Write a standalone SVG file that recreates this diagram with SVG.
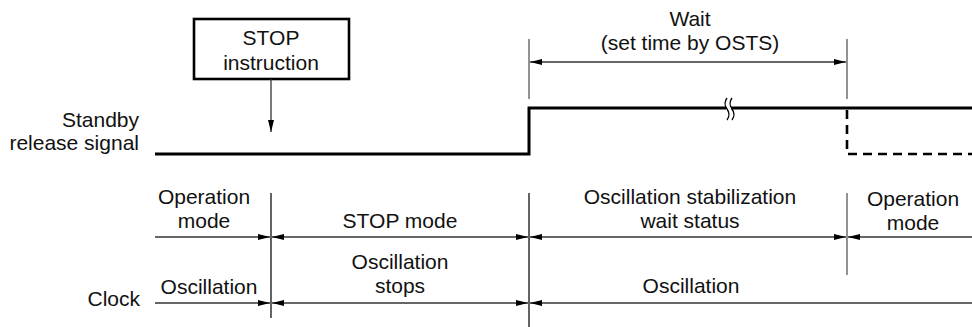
<svg xmlns="http://www.w3.org/2000/svg" width="972" height="327" viewBox="0 0 972 327">
<style>
text{font-family:"Liberation Sans",Arial,sans-serif;font-size:21px;fill:#111;text-anchor:middle}
.end{text-anchor:end}
.thin{stroke:#333;stroke-width:1.3;fill:none}
.vert{stroke:#111;stroke-width:1.3;fill:none}
.grey{stroke:#777;stroke-width:1.6;fill:none}
.sig{stroke:#000;stroke-width:3;fill:none}
.dash{stroke:#000;stroke-width:2.6;fill:none;stroke-dasharray:9 6}
</style>
<defs>
<marker id="ah" viewBox="0 0 12 6" refX="12" refY="3" markerWidth="12" markerHeight="6" markerUnits="userSpaceOnUse" orient="auto-start-reverse">
<path d="M0,0 L12,3 L0,6 Z" fill="#000"/>
</marker>
</defs>
<g id="stop-instruction">
<rect x="194" y="19" width="155" height="60" fill="#fff" stroke="#000" stroke-width="2.6"/>
<text x="271" y="45">STOP</text>
<text x="271" y="70">instruction</text>
</g>
<g id="labels">
<text class="end" x="139" y="127">Standby</text>
<text class="end" x="139" y="150">release signal</text>
<text class="end" x="140" y="306">Clock</text>
<text x="690" y="26">Wait</text>
<text x="690" y="50">(set time by OSTS)</text>
</g>
<g id="signal">
<polyline class="sig" points="155,154 529,154 529,108 972,108"/>
<polyline class="dash" points="847,110 847,154 972,154"/>
<rect x="726" y="100" width="5" height="18" fill="#fff"/>
<path d="M727,98 q-4,5.5 0,11 q4,5.5 0,11 M732,98 q-4,5.5 0,11 q4,5.5 0,11" stroke="#000" stroke-width="1.3" fill="none"/>
</g>
<g id="mode-labels">
<text x="204" y="204">Operation</text>
<text x="204" y="228">mode</text>
<text x="400" y="228">STOP mode</text>
<text x="690" y="204">Oscillation stabilization</text>
<text x="690" y="228">wait status</text>
<text x="913" y="206">Operation</text>
<text x="913" y="230">mode</text>
</g>
<g id="clock-labels">
<text x="209" y="294">Oscillation</text>
<text x="400" y="269">Oscillation</text>
<text x="400" y="293">stops</text>
<text x="691" y="293">Oscillation</text>
</g>
<g id="connectors">
<line class="thin" x1="271" y1="79" x2="271" y2="132" marker-end="url(#ah)"/>
<line class="grey" x1="529" y1="39" x2="529" y2="99"/>
<line class="grey" x1="847" y1="39" x2="847" y2="99"/>
<line class="thin" x1="530" y1="62" x2="846" y2="62" marker-start="url(#ah)" marker-end="url(#ah)"/>
<line class="vert" x1="271" y1="193" x2="271" y2="318"/>
<line class="vert" x1="529" y1="193" x2="529" y2="327"/>
<line class="grey" x1="847" y1="193" x2="847" y2="275"/>
<line class="thin" x1="155" y1="237" x2="270" y2="237" marker-end="url(#ah)"/>
<line class="thin" x1="272" y1="237" x2="528" y2="237" marker-start="url(#ah)" marker-end="url(#ah)"/>
<line class="thin" x1="530" y1="237" x2="846" y2="237" marker-start="url(#ah)" marker-end="url(#ah)"/>
<line class="thin" x1="848" y1="237" x2="972" y2="237" marker-start="url(#ah)"/>
<line class="thin" x1="155" y1="303" x2="270" y2="303" marker-end="url(#ah)"/>
<line class="thin" x1="272" y1="303" x2="528" y2="303" marker-start="url(#ah)" marker-end="url(#ah)"/>
<line class="thin" x1="530" y1="303" x2="972" y2="303" marker-start="url(#ah)"/>
</g>
</svg>
